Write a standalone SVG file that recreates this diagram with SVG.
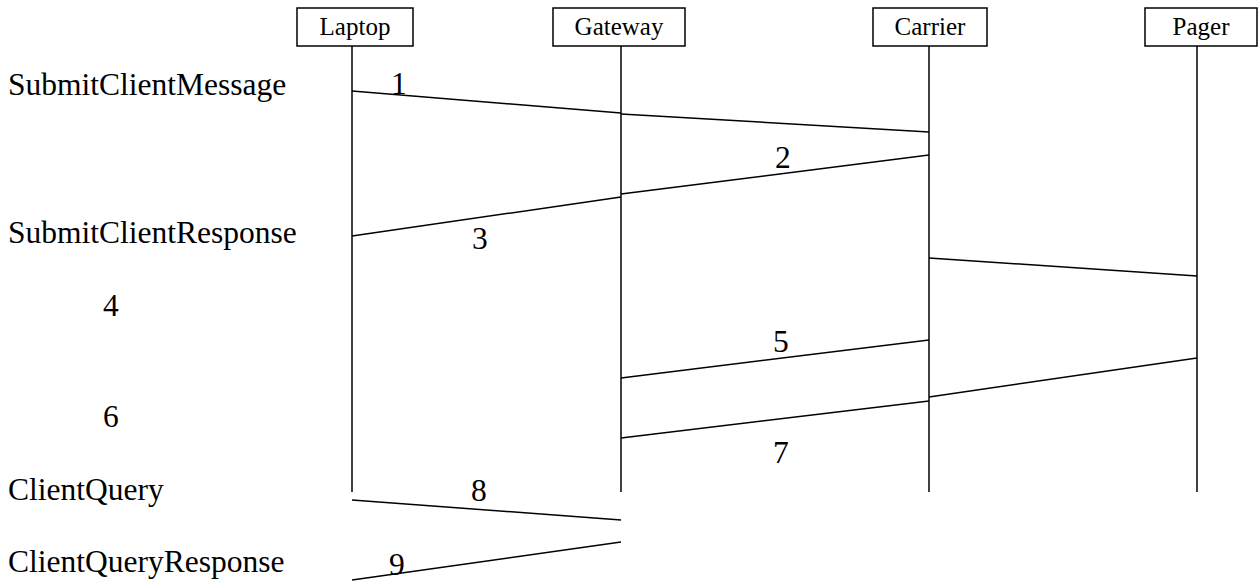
<svg xmlns="http://www.w3.org/2000/svg" width="1260" height="582" viewBox="0 0 1260 582">
<style>
.box{fill:#fff;stroke:#000;stroke-width:1.5}
.hd{font-family:"Liberation Serif",serif;font-size:25px;text-anchor:middle}
.lb{font-family:"Liberation Serif",serif;font-size:31.5px}
.ln{stroke:#000;stroke-width:1.5;fill:none}
</style>
<rect width="1260" height="582" fill="#fff"/>
<g id="laptop"><rect class="box" x="297" y="8" width="116" height="38"/><text class="hd" x="355" y="35">Laptop</text><line class="ln" x1="352" y1="46" x2="352" y2="492"/></g>
<g id="gateway"><rect class="box" x="553" y="8" width="132" height="38"/><text class="hd" x="619" y="35">Gateway</text><line class="ln" x1="621" y1="46" x2="621" y2="492"/></g>
<g id="carrier"><rect class="box" x="873" y="8" width="114" height="38"/><text class="hd" x="930" y="35">Carrier</text><line class="ln" x1="929" y1="46" x2="929" y2="492"/></g>
<g id="pager"><rect class="box" x="1145" y="8" width="112" height="38"/><text class="hd" x="1201" y="35">Pager</text><line class="ln" x1="1197" y1="46" x2="1197" y2="492"/></g>
<g id="connectors">
<line class="ln" x1="352" y1="91" x2="621" y2="113"/>
<line class="ln" x1="621" y1="114" x2="929" y2="132"/>
<line class="ln" x1="929" y1="155" x2="621" y2="194"/>
<line class="ln" x1="621" y1="197" x2="352" y2="236"/>
<line class="ln" x1="929" y1="258" x2="1197" y2="276"/>
<line class="ln" x1="929" y1="340" x2="621" y2="378"/>
<line class="ln" x1="1197" y1="358" x2="929" y2="397"/>
<line class="ln" x1="929" y1="401" x2="621" y2="438"/>
<line class="ln" x1="352" y1="500" x2="621" y2="520"/>
<line class="ln" x1="621" y1="542" x2="352" y2="580"/>
</g>
<g id="labels">
<text class="lb" x="8" y="95">SubmitClientMessage</text>
<text class="lb" x="8" y="243">SubmitClientResponse</text>
<text class="lb" x="103" y="316">4</text>
<text class="lb" x="103" y="427">6</text>
<text class="lb" x="8" y="500">ClientQuery</text>
<text class="lb" x="8" y="572">ClientQueryResponse</text>
<text class="lb" x="391" y="94">1</text>
<text class="lb" x="775" y="168">2</text>
<text class="lb" x="472" y="249">3</text>
<text class="lb" x="773" y="352">5</text>
<text class="lb" x="773" y="463">7</text>
<text class="lb" x="471" y="501">8</text>
<text class="lb" x="389" y="575">9</text>
</g>
</svg>
